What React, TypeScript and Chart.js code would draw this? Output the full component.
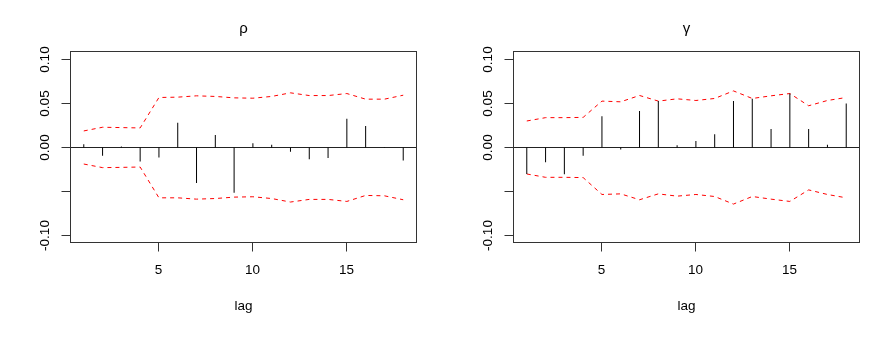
import React, { useEffect, useRef } from "react";
import { Chart, registerables } from "chart.js";

Chart.register(...registerables);

const LAGS = [1, 2, 3, 4, 5, 6, 7, 8, 9, 10, 11, 12, 13, 14, 15, 16, 17, 18];

const RHO_ACF = [0.0038, -0.0094, 0.001, -0.0158, -0.0113, 0.0282, -0.0403, 0.0143, -0.0515, 0.0049, 0.003, -0.0049, -0.0135, -0.012, 0.0327, 0.0245, 0.0005, -0.0147];
const RHO_UPPER = [0.0188, 0.023, 0.0226, 0.0222, 0.0568, 0.0572, 0.0587, 0.058, 0.0564, 0.056, 0.058, 0.0621, 0.059, 0.059, 0.0613, 0.0549, 0.0549, 0.0594];
const RHO_LOWER = [-0.0188, -0.0229, -0.0226, -0.0222, -0.0572, -0.0572, -0.0587, -0.058, -0.0564, -0.056, -0.058, -0.062, -0.059, -0.059, -0.0613, -0.0545, -0.0549, -0.0594];

const GAMMA_ACF = [-0.0301, -0.0169, -0.0305, -0.0094, 0.0354, -0.0023, 0.0414, 0.0527, 0.0026, 0.0075, 0.015, 0.0527, 0.0553, 0.0211, 0.0613, 0.0211, 0.003, 0.05];
const GAMMA_UPPER = [0.0301, 0.0339, 0.0339, 0.0342, 0.0527, 0.0519, 0.0591, 0.0527, 0.0553, 0.0534, 0.0557, 0.0643, 0.0557, 0.0587, 0.0613, 0.0474, 0.0534, 0.0568];
const GAMMA_LOWER = [-0.0301, -0.0339, -0.0339, -0.0342, -0.0534, -0.0527, -0.0594, -0.0527, -0.0553, -0.0534, -0.0557, -0.0643, -0.0557, -0.0587, -0.0613, -0.0482, -0.0534, -0.0572];

const X_TICKS = [5, 10, 15];
const X_TICK_LABELS = ["5", "10", "15"];
const Y_TICKS = [-0.1, -0.05, 0, 0.05, 0.1];
// R drops the -0.05 label (overlap); its tick mark is still drawn
const Y_TICK_LABELS = ["-0.10", "", "0.00", "0.05", "0.10"];
const X_LABEL = "lag";

const FONT = '"Liberation Sans", Arial, sans-serif';

function crisp(v: number) {
  return Math.round(v - 0.5) + 0.5;
}

function makePlugin(title: string) {
  return {
    id: "rstyle",
    beforeDatasetsDraw(chart: any) {
      const ctx = chart.ctx;
      const { left, right } = chart.chartArea;
      const y = chart.scales.y;
      ctx.save();
      ctx.strokeStyle = "#222";
      ctx.lineWidth = 1;
      const py = crisp(y.getPixelForValue(0));
      ctx.beginPath();
      ctx.moveTo(left - 0.5, py);
      ctx.lineTo(right + 0.5, py);
      ctx.stroke();
      ctx.restore();
    },
    afterDraw(chart: any) {
      const ctx = chart.ctx;
      const { left, right, top, bottom } = chart.chartArea;
      const x = chart.scales.x;
      const y = chart.scales.y;
      ctx.save();
      ctx.strokeStyle = "#333";
      ctx.lineWidth = 1;
      ctx.strokeRect(left - 0.5, top - 0.5, right - left + 1, bottom - top + 1);

      ctx.fillStyle = "#000";
      ctx.font = "13.5px " + FONT;
      ctx.textAlign = "center";
      ctx.textBaseline = "middle";

      Y_TICKS.forEach((v, i) => {
        const py = crisp(y.getPixelForValue(v));
        ctx.beginPath();
        ctx.moveTo(left - 0.5 - 9, py);
        ctx.lineTo(left - 0.5, py);
        ctx.stroke();
        if (Y_TICK_LABELS[i]) {
          ctx.save();
          ctx.translate(45, py);
          ctx.rotate(-Math.PI / 2);
          ctx.fillText(Y_TICK_LABELS[i], 0, 0);
          ctx.restore();
        }
      });

      X_TICKS.forEach((v, i) => {
        const px = crisp(x.getPixelForValue(v));
        ctx.beginPath();
        ctx.moveTo(px, bottom + 0.5);
        ctx.lineTo(px, bottom + 0.5 + 9);
        ctx.stroke();
        ctx.fillText(X_TICK_LABELS[i], px, 270);
      });

      const cx = (left + right) / 2;
      ctx.fillText(X_LABEL, cx, 306);
      ctx.font = "15px " + FONT;
      ctx.fillText(title, cx, 29);
      ctx.restore();
    },
  };
}

function Panel(props: { title: string; acf: number[]; upper: number[]; lower: number[] }) {
  const ref = useRef<HTMLCanvasElement | null>(null);
  useEffect(() => {
    if (!ref.current) return;
    const chart = new Chart(ref.current, {
      type: "bar",
      data: {
        datasets: [
          {
            type: "bar",
            data: LAGS.map((l, i) => ({ x: l, y: props.acf[i] })),
            backgroundColor: "#000",
            borderWidth: 0,
            barThickness: 1,
            inflateAmount: 0,
          } as any,
          {
            type: "line",
            data: LAGS.map((l, i) => ({ x: l, y: props.upper[i] })),
            borderColor: "#ff0000",
            borderWidth: 1,
            borderDash: [4, 4],
            pointRadius: 0,
            tension: 0,
            fill: false,
          } as any,
          {
            type: "line",
            data: LAGS.map((l, i) => ({ x: l, y: props.lower[i] })),
            borderColor: "#ff0000",
            borderWidth: 1,
            borderDash: [4, 4],
            pointRadius: 0,
            tension: 0,
            fill: false,
          } as any,
        ],
      },
      options: {
        responsive: false,
        maintainAspectRatio: false,
        animation: false,
        events: [],
        layout: { padding: { left: 71, right: 27, top: 52, bottom: 112 } },
        plugins: { legend: { display: false }, tooltip: { enabled: false } },
        scales: {
          x: { type: "linear", min: 0.32, max: 18.68, offset: false, display: false },
          y: { type: "linear", min: -0.1074, max: 0.1085, display: false },
        },
      } as any,
      plugins: [makePlugin(props.title)],
    });
    return () => chart.destroy();
  }, []);
  return <canvas ref={ref} width={443} height={354} style={{ display: "block", width: 443, height: 354 }} />;
}

export default function App() {
  return (
    <div style={{ position: "absolute", left: 0, top: 0, width: 886, height: 354, display: "flex", background: "#fff" }}>
      <Panel title="ρ" acf={RHO_ACF} upper={RHO_UPPER} lower={RHO_LOWER} />
      <Panel title="γ" acf={GAMMA_ACF} upper={GAMMA_UPPER} lower={GAMMA_LOWER} />
    </div>
  );
}
